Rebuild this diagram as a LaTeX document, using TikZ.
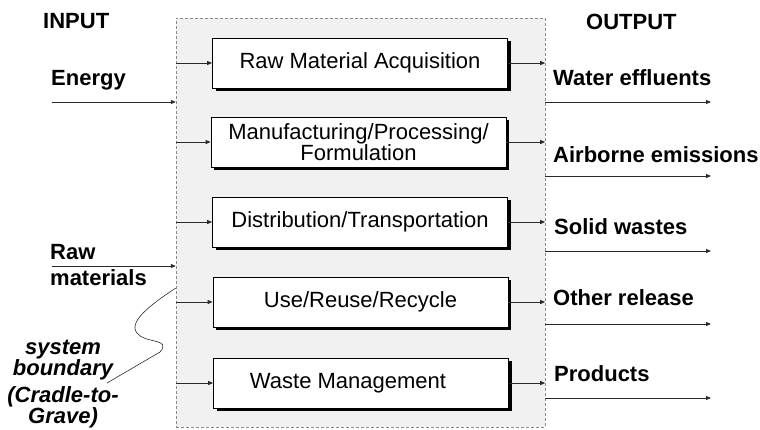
\documentclass[tikz,border=0pt]{standalone}
\usepackage{fontspec}
\setmainfont{Liberation Sans}
\usetikzlibrary{arrows.meta,shadows}
\definecolor{boundfill}{HTML}{F0F1F0}
\definecolor{boundline}{HTML}{8A8A8A}
\definecolor{arrowline}{HTML}{2A2A2A}
\newcommand{\boxw}{295pt}
\newcommand{\boxh}{50pt}
\newcommand{\lblfont}{\fontsize{22}{26}\selectfont\bfseries}
\newcommand{\boxfont}{\fontsize{22}{21}\selectfont}
\newcommand{\notefont}{\fontsize{22}{18.5}\selectfont\bfseries\itshape}

\begin{document}
\begin{tikzpicture}[x=1pt,y=-1pt,
  stage/.style={draw, fill=white, line width=0.8pt, minimum width=\boxw, minimum height=\boxh,
    font=\boxfont, align=center, inner sep=0,
    drop shadow={shadow xshift=3pt, shadow yshift=-3pt, fill=black, opacity=1}},
  lbl/.style={anchor=west, inner sep=0, font=\lblfont, align=left},
  arr/.style={draw=arrowline, line width=0.9pt, -{Triangle[length=5pt,width=4pt]}}]
\useasboundingbox (0,0) rectangle (760,429);
%boundary
\node[draw=boundline, fill=boundfill, dash pattern=on 3pt off 2pt, minimum width=369pt, minimum height=409pt, inner sep=0] (bnd) at (360.5,222.5) {};
%stages
\node[stage] (1) at (360,63) {Raw Material Acquisition};
\node[stage] (2) at (358.5,142) {Manufacturing/Processing/\\Formulation};
\node[stage] (3) at (360,222) {Distribution/Transportation};
\node[stage] (4) at (360.5,302) {Use/Reuse/Recycle};
\node[stage] (5) at (361,383) {Waste Management\hspace*{26pt}};
\foreach \i in {1,...,5} {
  \draw[arr] (bnd.west |- \i.west) -- (\i.west);
  \draw[arr] (\i.east) -- (bnd.east |- \i.east);
}
%inputs
\node[lbl] (input) at (43,21) {INPUT};
\node[lbl] (energy) at (51,80) {Energy};
\node[lbl] (rawmat) at (50,265) {Raw\\materials};
\coordinate (ein) at (52,102);
\coordinate (rin) at (52,266);
\draw[arr] (ein) -- (bnd.west |- ein);
\draw[arr] (rin) -- (bnd.west |- rin);
%outputs
\node[lbl] (output) at (586,22) {OUTPUT};
\node[lbl] (water) at (553,78) {Water effluents};
\node[lbl] (air) at (553,155) {Airborne emissions};
\node[lbl] (solid) at (554,227) {Solid wastes};
\node[lbl] (other) at (553,298) {Other release};
\node[lbl] (prod) at (554,374) {Products};
\coordinate (o1) at (711,102);
\coordinate (o2) at (711,176);
\coordinate (o3) at (711,251);
\coordinate (o4) at (711,324);
\coordinate (o5) at (711,398);
\foreach \i in {1,...,5}
  \draw[arr] (bnd.east |- o\i) -- (o\i);
%system boundary note
\node[inner sep=0, font=\notefont, align=center] (sysb) at (63,360) {system\\boundary};
\node[inner sep=0, font=\notefont, align=center] (cradle) at (63,407.5) {(Cradle-to-\\Grave)};
\coordinate (w0) at (bnd.west |- 0,288);
\coordinate (w1) at (107,383);
\draw[arrowline, line width=0.6pt] (w0) .. controls (150,305) and (128,322) .. (137,333)
  .. controls (145,344) and (172,338) .. (160,352) -- (w1);
\end{tikzpicture}
\end{document}
